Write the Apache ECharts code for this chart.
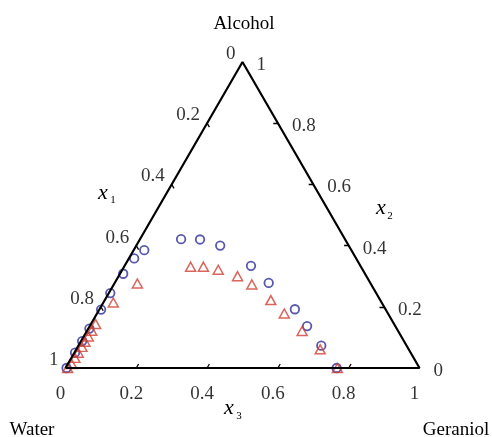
<!DOCTYPE html>
<html>
<head>
<meta charset="utf-8">
<style>html,body{margin:0;padding:0;background:#fff;}#c{width:492px;height:437px;}</style>
<script src="https://cdn.jsdelivr.net/npm/echarts/dist/echarts.min.js"></script>
</head>
<body>
<div id="c"></div>
<script>
// Ternary data: x2 = Alcohol fraction, x3 = Geraniol fraction, x1 (Water) = 1 - x2 - x3
const circleAlcohol  = [0.000,0.050,0.088,0.129,0.191,0.245,0.308,0.358,0.385,0.421,0.420,0.400,0.334,0.278,0.192,0.137,0.073,0.000];
const circleGeraniol = [0.003,0.002,0.003,0.003,0.005,0.004,0.009,0.015,0.030,0.116,0.170,0.237,0.357,0.435,0.552,0.614,0.686,0.766];
const triAlcohol  = [0.000,0.013,0.033,0.050,0.069,0.086,0.103,0.122,0.144,0.214,0.276,0.331,0.331,0.321,0.300,0.273,0.222,0.178,0.121,0.061,0.000];
const triGeraniol = [0.006,0.011,0.010,0.011,0.012,0.012,0.013,0.013,0.013,0.028,0.065,0.188,0.224,0.271,0.336,0.390,0.469,0.529,0.608,0.689,0.768];
const tickValues = [0, 0.2, 0.4, 0.6, 0.8, 1];
const tickLabels = ['0', '0.2', '0.4', '0.6', '0.8', '1'];
const cornerNames = ['Water', 'Alcohol', 'Geraniol'];

// ternary (alcohol, geraniol) -> cartesian (X, Y) in side-length units, Y scaled to height 1
function tern(alc, ger) { return [ger + alc / 2, alc]; }

const circles = circleAlcohol.map((a, i) => tern(a, circleGeraniol[i]));
const tris = triAlcohol.map((a, i) => tern(a, triGeraniol[i]));

const frame = [tern(0,0), tern(0,1), tern(1,0), tern(0,0)];

const t = 0.013;
const tickSegs = [];
tickValues.forEach(v => {
  if (v <= 0 || v >= 1) return;
  const b = tern(0, v);
  tickSegs.push({coords: [b, [b[0] + t/2, b[1] + t]]});
  const r = tern(v, 1 - v);
  tickSegs.push({coords: [r, [r[0] - t, r[1]]]});
  const l = tern(1 - v, 0);
  tickSegs.push({coords: [l, [l[0] + t/2, l[1] - t]]});
});

const FONT = '"Liberation Serif", "DejaVu Serif", serif';
const labelBase = {show: true, position: 'inside', fontFamily: FONT, fontSize: 19, color: '#000', verticalAlign: 'middle'};

function labelSeries(points, align, offset) {
  return {
    type: 'scatter', symbolSize: 0, silent: true, clip: false,
    data: points,
    label: Object.assign({}, labelBase, {align: align, offset: offset, formatter: p => p.value[2]})
  };
}
const bottomLabels = tickValues.map((v, i) => tern(0, v).concat([tickLabels[i]]));
const leftLabels = tickValues.map((v, i) => tern(1 - v, 0).concat([tickLabels[i]]));
const rightLabels = tickValues.map((v, i) => tern(v, 1 - v).concat([tickLabels[i]]));

const chart = echarts.init(document.getElementById('c'), null, {renderer: 'canvas'});
chart.setOption({
  animation: false,
  backgroundColor: '#fff',
  grid: {left: 65.5, top: 62, width: 354, height: 306},
  xAxis: {type: 'value', min: 0, max: 1, show: false},
  yAxis: {type: 'value', min: 0, max: 1, show: false},
  series: [
    {type: 'line', data: frame, symbol: 'none', clip: false, silent: true,
     lineStyle: {color: '#000', width: 2.2}},
    {type: 'lines', coordinateSystem: 'cartesian2d', data: tickSegs, silent: true,
     lineStyle: {color: '#000', width: 1.3, opacity: 1}},
    {type: 'scatter', data: circles, symbol: 'circle', symbolSize: 8.5, clip: false,
     itemStyle: {color: 'rgba(0,0,0,0)', borderColor: '#2e2e98', borderWidth: 1.8}},
    {type: 'scatter', data: tris, symbol: 'triangle', symbolSize: [10, 9], clip: false,
     itemStyle: {color: 'rgba(0,0,0,0)', borderColor: '#d03e33', borderWidth: 1.5}},
    labelSeries(bottomLabels, 'center', [-5, 26]),
    labelSeries(leftLabels, 'right', [-7, -8]),
    labelSeries(rightLabels, 'left', [14, 3])
  ],
  graphic: [
    {type: 'text', x: 244, y: 24, style: {text: cornerNames[1], font: '19px ' + FONT, fill: '#000', align: 'center', verticalAlign: 'middle'}},
    {type: 'text', x: 32, y: 430, style: {text: cornerNames[0], font: '19px ' + FONT, fill: '#000', align: 'center', verticalAlign: 'middle'}},
    {type: 'text', x: 456, y: 430, style: {text: cornerNames[2], font: '19px ' + FONT, fill: '#000', align: 'center', verticalAlign: 'middle'}},
    {type: 'text', x: 103, y: 193, style: {text: 'x', font: 'italic 22px ' + FONT, fill: '#000', align: 'center', verticalAlign: 'middle'}},
    {type: 'text', x: 113, y: 200, style: {text: '1', font: '11px ' + FONT, fill: '#000', align: 'center', verticalAlign: 'middle'}},
    {type: 'text', x: 381, y: 208, style: {text: 'x', font: 'italic 22px ' + FONT, fill: '#000', align: 'center', verticalAlign: 'middle'}},
    {type: 'text', x: 390, y: 216, style: {text: '2', font: '11px ' + FONT, fill: '#000', align: 'center', verticalAlign: 'middle'}},
    {type: 'text', x: 229, y: 408, style: {text: 'x', font: 'italic 22px ' + FONT, fill: '#000', align: 'center', verticalAlign: 'middle'}},
    {type: 'text', x: 239, y: 416, style: {text: '3', font: '11px ' + FONT, fill: '#000', align: 'center', verticalAlign: 'middle'}}
  ]
});
</script>
</body>
</html>
